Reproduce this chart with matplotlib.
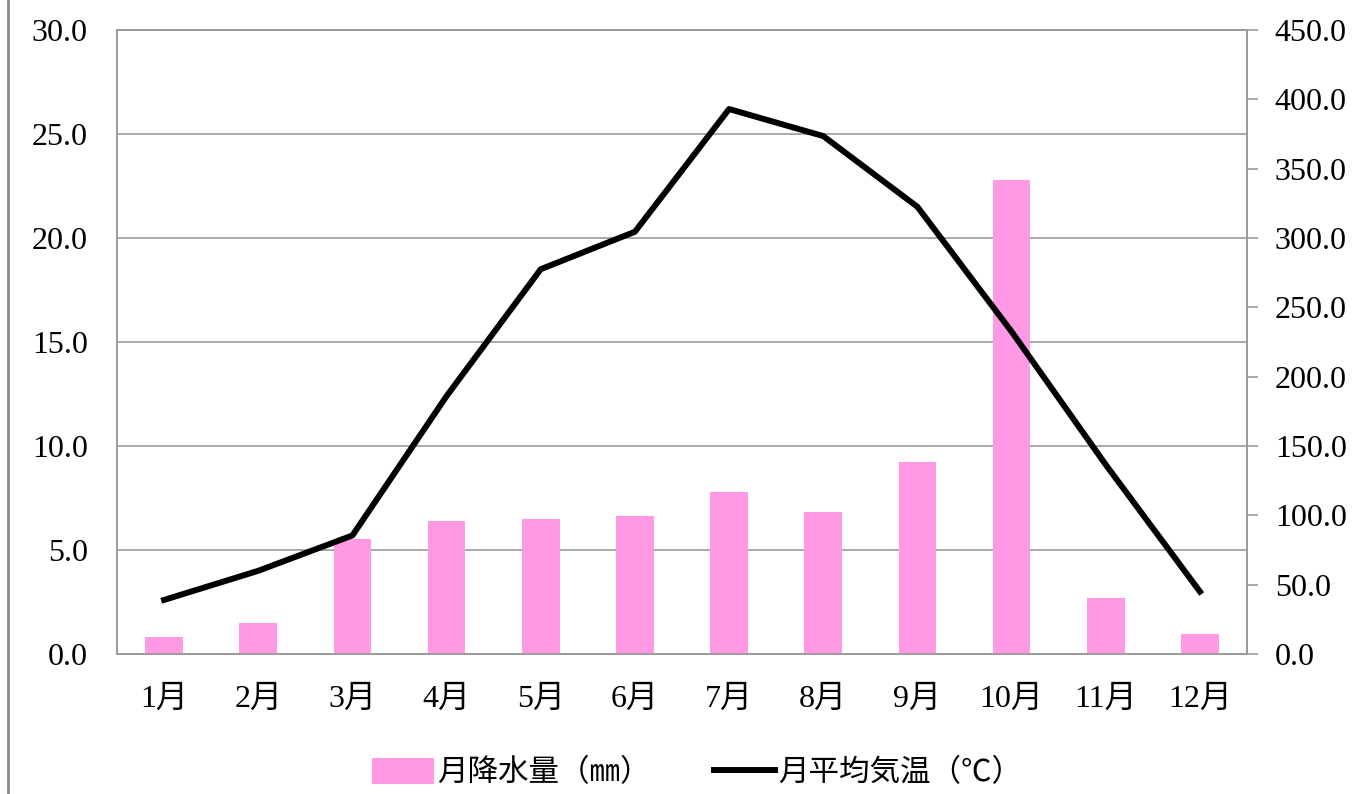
import numpy as np
import matplotlib
matplotlib.use("Agg")
import matplotlib.pyplot as plt
from matplotlib.lines import Line2D
from matplotlib.ticker import FormatStrFormatter, MultipleLocator

# Data
months = ["1月", "2月", "3月", "4月", "5月", "6月", "7月", "8月", "9月", "10月", "11月", "12月"]
temperature = [2.6, 4.0, 5.7, 12.4, 18.5, 20.3, 26.2, 24.9, 21.5, 15.5, 9.1, 3.0]   # ℃, left axis
precipitation = [12.3, 22.6, 83.2, 95.9, 97.4, 99.7, 116.6, 102.4, 138.5, 341.8, 40.6, 14.6]  # mm, right axis

BAR_COLOR = "#FF99E6"
GRID_COLOR = "#9A9A9A"
FONT = ["Liberation Serif", "Noto Sans CJK JP"]

plt.rcParams["font.family"] = FONT

fig = plt.figure(figsize=(13.57, 7.94), dpi=100)
fig.subplots_adjust(left=117/1357, right=1247/1357, top=1-30/794, bottom=1-654/794)

x = np.arange(len(months))

#- Left axis: temperature scale + grid ----------------------------------------
ax = fig.add_subplot(111)
ax.set_xlim(-0.5, 11.5)
ax.set_ylim(0, 30)
ax.yaxis.set_major_locator(MultipleLocator(5))
ax.yaxis.set_major_formatter(FormatStrFormatter("%.1f"))
ax.grid(axis="y", color=GRID_COLOR, linewidth=1.2)
ax.set_axisbelow(True)
ax.tick_params(axis="x", length=0, pad=22, labelsize=23)
ax.set_xticks(x)
ax.set_xticklabels(months)
for s in ax.spines.values():
    s.set_color(GRID_COLOR)
    s.set_linewidth(1.2)

#- Right axis: precipitation bars ---------------------------------------------
ax2 = ax.twinx()
ax2.set_ylim(0, 450)
ax2.yaxis.set_major_locator(MultipleLocator(50))
ax2.yaxis.set_major_formatter(FormatStrFormatter("%.1f"))
bars = ax2.bar(x, precipitation, width=0.4, color=BAR_COLOR)
for s in ax2.spines.values():
    s.set_color(GRID_COLOR)
    s.set_linewidth(1.2)

#- Line on top, using the temperature scale -----------------------------------
ax3 = ax.twinx()
ax3.set_ylim(0, 30)
ax3.axis("off")
line, = ax3.plot(x, temperature, color="black", linewidth=4.3)

# twinx resets tick sides, so set the y ticks last
ax.yaxis.tick_left()
ax2.yaxis.tick_right()
ax2.tick_params(axis="y", which="both", left=False, labelleft=False, right=True, labelright=True,
                length=8, width=1.2, color=GRID_COLOR, pad=12, labelsize=23)
ax.tick_params(axis="y", right=False, labelright=False, length=0, pad=21, labelsize=23)

fig.legend(handles=[bars, line], labels=["月降水量（㎜）", "月平均気温（℃）"],
           loc="center", bbox_to_anchor=(0.514, 0.026), ncol=2, frameon=False,
           fontsize=22, handlelength=2.0, handletextpad=0.1, columnspacing=2.1,
           handleheight=0.9)

# thin frame edge on the left of the picture
fig.add_artist(Line2D([8/1357, 8/1357], [0, 1], transform=fig.transFigure,
                      color="#8A8A8A", linewidth=2))

fig.savefig("out.png", dpi=100)
